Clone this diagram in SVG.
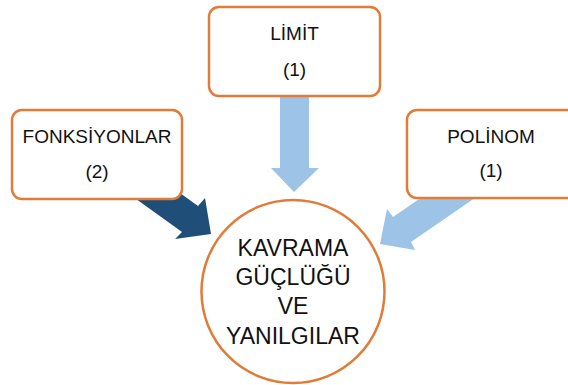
<svg xmlns="http://www.w3.org/2000/svg" width="568" height="385" viewBox="0 0 568 385">
<style>
.box{fill:#fff;stroke:#E07B39;stroke-width:2.5}
.t{font-family:"Liberation Sans",Arial,sans-serif;font-size:19px;fill:#111;text-anchor:middle}
.c{font-family:"Liberation Sans",Arial,sans-serif;font-size:23px;fill:#111;text-anchor:middle}
</style>
<rect width="568" height="385" fill="#fff"/>
<g id="connectors">
<polygon fill="#9DC3E6" points="280,90 309,90 309,168 319,168 294,192 271,168 280,168"/>
<polygon fill="#1F4E79" points="141,165 198,206 205,198 211,234 175,239 182,232 125,191"/>
<polygon fill="#9DC3E6" points="467,166 393,217 387,209 380,244 415,250 411,242 485,191"/>
</g>
<g id="limit">
<rect class="box" x="209" y="7" width="171" height="89" rx="10"/>
<text class="t" x="294.5" y="40">LİMİT</text>
<text class="t" x="294.5" y="76">(1)</text>
</g>
<g id="fonksiyonlar">
<rect class="box" x="12" y="110" width="170" height="89" rx="10"/>
<text class="t" x="97" y="143">FONKSİYONLAR</text>
<text class="t" x="97" y="178">(2)</text>
</g>
<g id="polinom">
<rect class="box" x="407" y="110" width="170" height="88" rx="10"/>
<text class="t" x="491" y="143">POLİNOM</text>
<text class="t" x="491" y="177">(1)</text>
</g>
<g id="kavrama">
<circle cx="293" cy="291.5" r="91.5" fill="#fff" stroke="#E07B39" stroke-width="2.5"/>
<text class="c" x="293" y="256">KAVRAMA</text>
<text class="c" x="293" y="285">GÜÇLÜĞÜ</text>
<text class="c" x="293" y="314">VE</text>
<text class="c" x="293" y="344">YANILGILAR</text>
</g>
</svg>
